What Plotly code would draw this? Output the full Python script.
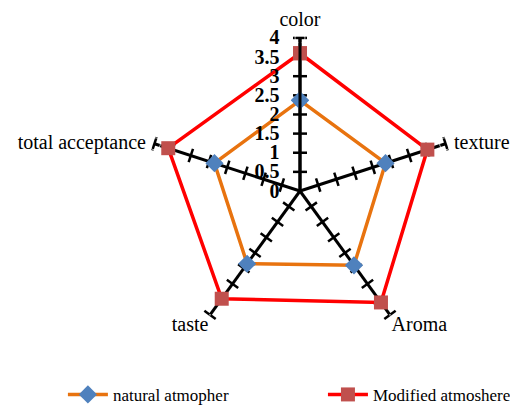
import plotly.graph_objects as go

categories = ["color", "texture", "Aroma", "taste", "total acceptance"]
natural = [2.37, 2.35, 2.4, 2.35, 2.35]
modified = [3.6, 3.5, 3.6, 3.48, 3.62]
radial_ticks = [0, 0.5, 1, 1.5, 2, 2.5, 3, 3.5, 4]
radial_labels = ["0", "0.5", "1", "1.5", "2", "2.5", "3", "3.5", "4"]
label_positions = ["top center", "middle right", "bottom right", "bottom left", "middle left"]
label_offsets = [10, 12, 1, 1, 12]

serif = "Liberation Serif, Times New Roman, serif"

fig = go.Figure()

# tick marks along every spoke
spoke_angles = [0, 72, 144, 216, 288]
for cat, ang in zip(categories, spoke_angles):
    fig.add_trace(go.Scatterpolar(
        r=radial_ticks[1:], theta=[cat] * (len(radial_ticks) - 1),
        mode="markers", showlegend=False, hoverinfo="skip",
        marker=dict(symbol="line-ew", size=10, angle=ang,
                    line=dict(color="black", width=2.5)),
    ))

# category labels at the ends of the spokes
fig.add_trace(go.Scatterpolar(
    r=[radial_ticks[-1]] * len(categories), theta=categories,
    mode="markers+text", text=categories, textposition=label_positions,
    textfont=dict(family=serif, size=20, color="black"),
    marker=dict(size=label_offsets, color="rgba(0,0,0,0)"),
    showlegend=False, hoverinfo="skip", cliponaxis=False,
))

def closed(v):
    return list(v) + [v[0]]

fig.add_trace(go.Scatterpolar(
    r=closed(natural), theta=closed(categories), name="natural atmopher",
    mode="lines+markers", legend="legend",
    line=dict(color="#E8730F", width=3.5),
    marker=dict(symbol="diamond", size=14, color="#4F81BD"),
))
fig.add_trace(go.Scatterpolar(
    r=closed(modified), theta=closed(categories), name="Modified atmoshere",
    mode="lines+markers", legend="legend2",
    line=dict(color="#FF0000", width=3.5),
    marker=dict(symbol="square", size=14, color="#C0504D"),
))

legend_font = dict(family=serif, size=17, color="black")
fig.update_layout(
    width=518, height=405,
    margin=dict(l=0, r=0, t=0, b=0),
    paper_bgcolor="white", plot_bgcolor="white",
    font=dict(family=serif, color="black"),
    polar=dict(
        domain=dict(x=[0.2669, 0.8605], y=[0.1661, 0.9257]),
        bgcolor="white",
        gridshape="linear",
        radialaxis=dict(
            range=[0, 4], angle=90, tickvals=radial_ticks, ticktext=radial_labels,
            showgrid=False, showline=True, linecolor="black", linewidth=3,
            ticks="outside", ticklen=12, tickcolor="rgba(0,0,0,0)",
            side="counterclockwise",
            tickfont=dict(family=serif, size=20, color="black", weight="bold"),
            tickangle=90,
        ),
        angularaxis=dict(
            rotation=90, direction="clockwise",
            showline=False, showgrid=True, gridcolor="black", gridwidth=3,
            ticks="", showticklabels=False,
        ),
    ),
    legend=dict(orientation="h", x=0.106, y=0.04, xanchor="left", yanchor="middle",
                font=legend_font, itemwidth=40, bgcolor="rgba(0,0,0,0)"),
    legend2=dict(orientation="h", x=0.608, y=0.04, xanchor="left", yanchor="middle",
                 font=legend_font, itemwidth=40, bgcolor="rgba(0,0,0,0)"),
)

fig.write_html("out.html")
